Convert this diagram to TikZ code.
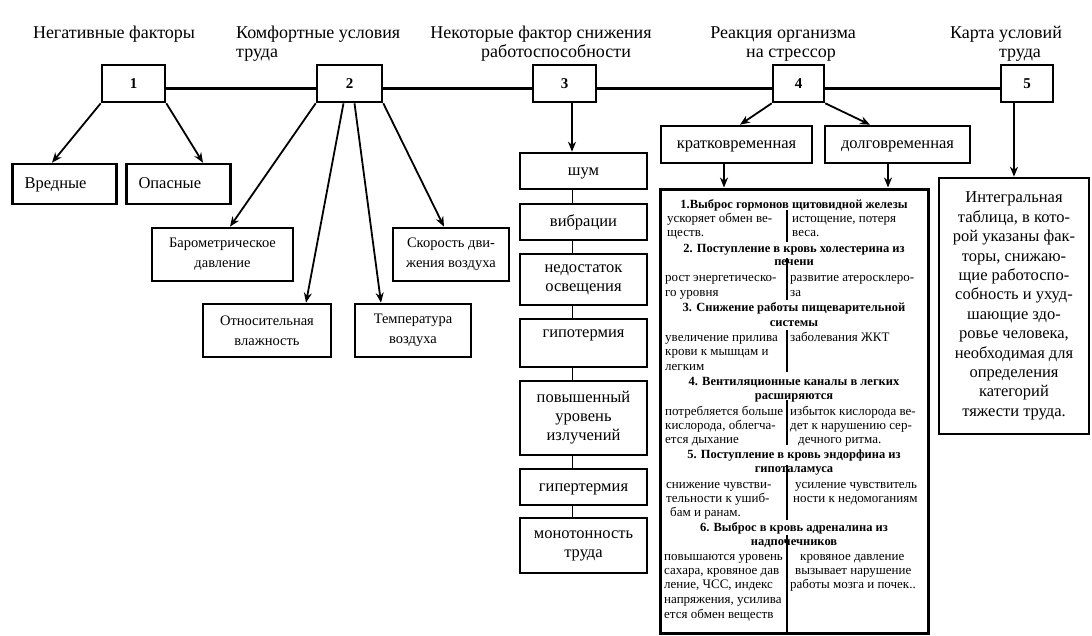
\documentclass[tikz,border=0pt]{standalone}
\usepackage{fontspec}
\setmainfont{Liberation Serif}
\usetikzlibrary{arrows.meta,positioning}

\begin{document}
\begin{tikzpicture}[x=1pt,y=-1pt,
    ttl/.style={inner sep=0pt,anchor=base,font=\fontsize{18}{20}\selectfont},
    numbox/.style={draw,line width=2.6pt,fill=white,minimum height=37pt,inner sep=0pt,font=\fontsize{15}{18}\selectfont\bfseries},
    kbox/.style={draw,line width=2.6pt,fill=white,inner sep=0pt,align=center,font=\fontsize{14.5}{20}\selectfont},
    sbox/.style={draw,line width=2.6pt,fill=white,inner sep=0pt,text height=8pt,text depth=0pt,font=\fontsize{16.5}{19}\selectfont},
    fbox/.style={draw,line width=2.6pt,fill=white,inner sep=0pt,minimum width=127pt,align=center,font=\fontsize{16.5}{19}\selectfont},
    arr/.style={line width=1.8pt,-{Stealth[length=10pt,width=8pt]}},
    hd/.style={inner sep=0pt,anchor=base,font=\fontsize{12.5}{14}\selectfont\bfseries},
    txt/.style={inner sep=0pt,anchor=base west,font=\fontsize{13}{14}\selectfont},
  ]
\useasboundingbox (0,0) rectangle (1092,635);

% titoli sopra i blocchi
\node[ttl] (t1) at (114,38) {Негативные факторы};
\node[ttl,anchor=base west] (t2) at (236,38) {Комфортные условия};
\node[ttl,anchor=base west] (t2b) at (236,57) {труда};
\node[ttl] (t3) at (541,38) {Некоторые фактор снижения};
\node[ttl] (t3b) at (556,57) {работоспособности};
\node[ttl] (t4) at (783,38) {Реакция организма};
\node[ttl] (t4b) at (791,57) {на стрессор};
\node[ttl] (t5) at (1006,38) {Карта условий};
\node[ttl] (t5b) at (1020,57) {труда};

% blocchi numerati
\node[numbox,minimum width=63pt] (n1) at (133.5,83.5) {1};
\node[numbox,minimum width=65pt] (n2) at (349.5,83.5) {2};
\node[numbox,minimum width=63pt] (n3) at (564.5,83.5) {3};
\node[numbox,minimum width=51pt] (n4) at (798.5,83.5) {4};
\node[numbox,minimum width=52pt] (n5) at (1027,83.5) {5};
\foreach \a/\b in {n1/n2,n2/n3,n3/n4,n4/n5}
  \draw[line width=2.6pt] ([yshift=-5pt]\a.east) -- ([yshift=-5pt]\b.west);

% 1
\node[sbox,minimum width=104pt,minimum height=40pt,text width=80pt,inner xsep=12pt] (vred) at (64.5,184) {Вредные};
\node[sbox,minimum width=104pt,minimum height=40pt,text width=80pt,inner xsep=12pt] (opas) at (178.5,184) {Опасные};
\draw[arr] (n1.south west) -- ([xshift=-12.5pt]vred.north);
\draw[arr] (n1.south east) -- ([xshift=24.5pt]opas.north);

% 2
\node[kbox,minimum width=141pt,minimum height=53pt] (baro) at (222.5,254.5) {Барометрическое\\давление};
\node[kbox,minimum width=116pt,minimum height=53pt] (skor) at (451,254.5) {Скорость дви-\\жения воздуха};
\node[kbox,minimum width=128pt,minimum height=53pt] (otn) at (267,330.5) {Относительная\\влажность};
\node[kbox,minimum width=116pt,minimum height=53pt] (temp) at (413,330.5) {Температура\\воздуха};
\draw[arr] (n2.south west) -- ([xshift=7.5pt]baro.north);
\draw[arr] ([xshift=-6pt]n2.south) -- ([xshift=39pt]otn.north);
\draw[arr] ([xshift=5pt]n2.south) -- ([xshift=-32pt]temp.north);
\draw[arr] (n2.south east) -- ([xshift=-7pt]skor.north);

% 3
\node[sbox,minimum width=127pt,minimum height=36pt] (shum) at (583.5,171) {шум};
\node[sbox,minimum width=127pt,minimum height=36pt] (vibr) at (583.5,222) {вибрации};
\node[fbox,minimum height=51pt] (osv) at (583.5,279.5) {недостаток\\освещения};
\node[fbox,minimum height=48pt] (gipo) at (583.5,343) {гипотермия\\\mbox{}};
\node[fbox,minimum height=74pt] (izl) at (583.5,418) {повышенный\\уровень\\излучений};
\node[sbox,minimum width=127pt,minimum height=36pt] (giper) at (583.5,487) {гипертермия};
\node[fbox,minimum height=55pt] (mono) at (583.5,545.5) {монотонность\\труда};
\coordinate (c3) at (572,0);
\draw[arr] (n3.south -| c3) -- (shum.north -| c3);
\foreach \a/\b in {shum/vibr,vibr/osv,osv/gipo,gipo/izl,izl/giper,giper/mono}
  \draw[line width=0.8pt] (\a.south -| c3) -- (\b.north -| c3);

% 4
\node[sbox,minimum width=151pt,minimum height=37pt] (krat) at (736.5,144.5) {кратковременная};
\node[sbox,minimum width=145pt,minimum height=37pt] (dolg) at (897.5,144.5) {долговременная};
\draw[arr] (n4.south west) -- ([xshift=3.5pt]krat.north);
\draw[arr] (n4.south east) -- ([xshift=-27.5pt]dolg.north);
\node[draw,line width=3pt,minimum width=268pt,minimum height=444pt,inner sep=0pt] (big) at (794,411) {};
\draw[arr] ([xshift=-12.5pt]krat.south) -- ([xshift=-12.5pt]krat.south |- big.north);
\draw[arr] ([xshift=-9.5pt]dolg.south) -- ([xshift=-9.5pt]dolg.south |- big.north);

\foreach \y/\t [count=\i] in {208/{1.Выброс гормонов щитовидной железы},
    252/{2. Поступление в кровь холестерина из},265/печени,
    311/{3. Снижение работы пищеварительной},326/системы,
    385/{4. Вентиляционные каналы в легких},399/расширяются,
    458/{5. Поступление в кровь эндорфина из},472/гипоталамуса,
    531/{6. Выброс в кровь адреналина из},545/надпочечников}
  \node[hd] (h\i) at (794,\y) {\t};
\foreach \x/\y/\t [count=\i] in {667/222/{ускоряет обмен ве-},667/236/{ществ.},
    665/281/{рост энергетическо-},665/296/{го уровня},
    665/341/{увеличение прилива},665/355/{крови к мышцам и},665/370/{легким},
    665/415/{потребляется больше},665/429/{кислорода, облегча-},665/443/{ется дыхание},
    666/488/{снижение чувстви-},666/502/{тельности к ушиб-},670/516/{бам и ранам.},
    664/560/{повышаются уровень},664/574/{сахара, кровяное дав},664/588/{ление, ЧСС, индекс},
    664/603/{напряжения, усилива},664/618/{ется обмен веществ}}
  \node[txt] (l\i) at (\x,\y) {\t};
\foreach \x/\y/\t [count=\i] in {792/222/{истощение, потеря},792/236/{веса.},
    790/281/{развитие атеросклеро-},790/296/{за},
    790/341/{заболевания ЖКТ},
    790/415/{избыток кислорода ве-},790/429/{дет к нарушению сер-},798/443/{дечного ритма.},
    795/488/{усиление чувствитель},793/502/{ности к недомоганиям},
    800/560/{кровяное давление},795/574/{вызывает нарушение},790/588/{работы мозга и почек..}}
  \node[txt] (r\i) at (\x,\y) {\t};
\foreach \a/\b in {210/242,258/300,330/372,400/445,465/520,535/633}
  \draw[line width=2pt] (787,\a) -- (787,\b);

% 5
\node[draw,line width=2.6pt,minimum width=150pt,minimum height=256pt,inner sep=0pt,align=center,font=\fontsize{16.5}{19.4}\selectfont] (karta) at (1014,306) {Интегральная\\таблица, в кото-\\рой указаны фак-\\торы, снижаю-\\щие работоспо-\\собность и ухуд-\\шающие здо-\\ровье человека,\\необходимая для\\определения\\категорий\\тяжести труда.};
\draw[arr] (n5.south -| karta.north) -- (karta.north);
\end{tikzpicture}
\end{document}
